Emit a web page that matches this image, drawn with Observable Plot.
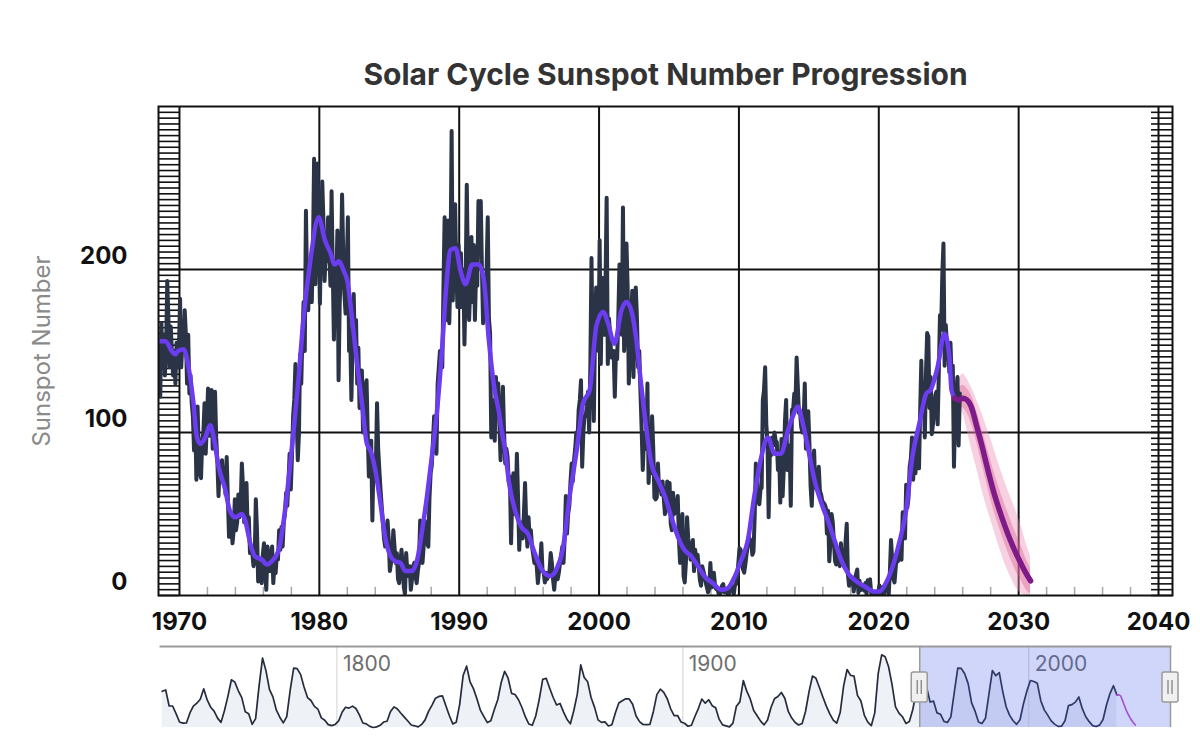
<!DOCTYPE html>
<html><head><meta charset="utf-8">
<script src="https://cdn.jsdelivr.net/npm/d3@7"></script>
<script src="https://cdn.jsdelivr.net/npm/@observablehq/plot@0.6"></script>
<style>
html,body{margin:0;padding:0;background:#fff;}
#wrap{position:relative;width:1200px;height:743px;overflow:hidden;background:#fff;}
#main{position:absolute;left:0;top:0;}
#nav{position:absolute;left:0;top:640px;}
</style></head><body><div id="wrap"><div id="main"></div><div id="nav"></div></div>
<script>
// ---------- DATA ----------
const titleText = "Solar Cycle Sunspot Number Progression";
const yTitle = "Sunspot Number";
const xTickYears = [1970, 1980, 1990, 2000, 2010, 2020, 2030, 2040];
const yTickValues = [0, 100, 200];
const yGridValues = [100, 200];
const minorTickYears = [1972,1974,1976,1978,1982,1984,1986,1988,1992,1994,1996,1998,2002,2004,2006,2008,2012,2014,2016,2018,2022,2024,2026,2028,2032,2034,2036,2038];
const hatchValues = d3.range(0, 84).map(i => i * 300 / 84);

// Monthly mean sunspot number, starting July 1968
const firstYear = 1968, firstMonth = 7;
const sunspots1968to1969 = [150,122,167,140,160,135, 150,193,170,140,165,150,135,150,130,155,140,150];
const sunspots1970s = [
182,140,155,150,175,160,130,160,124,135,118,110,
89,112,71,116,90,75,72,95,100,118,87,105,
127,98,100,126,90,112,125,97,82,61,80,78,
83,70,75,62,85,60,36,50,45,32,40,59,
40,45,62,48,55,81,67,45,50,69,40,48,
26,30,26,18,22,59,40,8.6,20,18,7.6,25,
32,15,3.5,30,20,15,25,30,7.6,20,13.7,25,
22,40,28,42,30,45,50,63,55,70,87,65,
85,110,120,142,110,83,99,148,130,160,180,150,
236,190,175,203,205,180,210,268,191,230,265,220];
const sunspots1980s = [
179,220,254,230,193,210,205,232,215,190,248,200,
157,195,190,224,132,180,200,246,210,185,173,200,
232,150,160,120,155,185,150,169,130,152,115,138,
138,100,105,128,132,100,73,90,95,46,85,70,
80,118,90,77,65,55,45,35,30,40,46,35,
15,20,25,40,30,20,26,10,7.6,20,28,18,
5,1.4,26,15,12,18,3.5,10,18,20,12,7.6,
15,20,46,35,20,30,46,40,32,30,60,75,
80,95,110,100,87,130,140,150,150,140,190,232,
169,210,230,167,200,285,181,220,240,200,177,215];
const sunspots1990s = [
177,210,177,200,154,190,252,200,169,190,220,180,
215,169,200,190,242,220,242,200,167,190,180,200,
232,170,161,97,120,110,95,134,115,130,105,83,
107,128,100,81,90,85,70,73,32,60,75,50,
55,87,60,28,45,40,35,50,69,44,30,48,
35,40,30,25,20,22,18,7.6,15,20,32,15,
14,8,14,10,12,15,26,20,10,3.5,12,15,
10,14,20,25,30,20,35,61,38,50,55,70,
81,70,83,90,100,95,114,120,132,79,100,110,
110,116,125,100,140,207,150,107,160,189,170,150];
const sunspots2000s = [
218,142,195,180,160,190,244,142,170,160,146,150,
150,122,150,145,170,203,180,160,238,150,170,216,
190,130,150,170,187,134,165,189,170,140,150,125,
103,77,95,100,90,130,69,85,75,110,90,60,
59,60,81,65,69,62,70,60,50,52,70,55,
69,44,40,63,50,57,55,61,35,20,30,50,
12,8,20,48,35,30,22,25,34,15,28,20,
25,18,9.6,6,18,15,12,8,5,2,4,20,
5,5.5,14,6,4,4.5,1.4,0.5,2,6,7,2,
2,3,0.8,1.2,4.5,4.5,5,0.4,6,7,12,20];
const sunspots2010s = [
29,28,24,16,14,19,25,30,36,34,34,25,
27,48,81,76,58,56,65,66,120,126,140,105,
94,48,87,86,97,92,100,95,94,77,88,57,
96,61,78,107,120,77,86,92,55,114,114,124,
117,146,129,112,112,103,100,107,130,90,104,113,
93,67,55,75,89,66,66,64,79,64,62,58,
57,56,54,38,52,21,32,50,45,33,21,19,
26,26,18,32,19,19,18,33,44,13,6,8,
7,11,2.5,9,13,16,1.6,9,3.3,5,5,3,
7.7,0.8,9.4,9.1,9.9,1.2,0.9,0.5,1.1,0.4,0.5,1.5];
const sunspots2020s = [
6.2,0.2,1.5,5.2,0.2,5.8,6.1,7.5,0.6,14.4,34,22,
10,8,17,24,21,25,34,22,51,37,35,68,
54,60,79,84,97,71,91,75,96,96,78,113,
144,111,123,97,137,161,159,115,134,99,105,114,
123,125,105,137,172,163,197,216,141,166,153,155,
137,155,134,141,79,113,126,134,92,124];

// 13-month smoothed sunspot number
const smoothYears = [1968.5,1969.0,1969.45,1969.7,1969.9,1970.3,1970.65,1971.0,1971.25,1971.5,1971.85,1972.2,1972.45,1972.8,1973.27,1973.6,1974.0,1974.46,1974.7,1975.06,1975.4,1975.9,1976.25,1976.6,1977.1,1977.45,1977.8,1978.16,1978.5,1978.88,1979.35,1979.95,1980.4,1980.8,1981.1,1981.4,1981.75,1982.0,1982.3,1982.7,1983.05,1983.4,1983.65,1984.0,1984.37,1984.7,1985.1,1985.44,1985.8,1986.15,1986.6,1987.0,1987.35,1987.7,1988.07,1988.4,1988.78,1989.07,1989.38,1989.74,1990.1,1990.45,1990.93,1991.4,1991.77,1992.1,1992.5,1992.85,1993.0,1993.3,1993.55,1994.0,1994.45,1994.9,1995.4,1995.9,1996.5,1996.95,1997.4,1997.9,1998.4,1998.86,1999.33,1999.8,2000.3,2000.64,2001.1,2001.6,2001.95,2002.3,2002.67,2003.0,2003.4,2003.74,2004.2,2004.7,2005.17,2005.64,2006.1,2006.6,2007.07,2007.55,2008.14,2008.74,2009.2,2009.7,2010.17,2010.64,2011.1,2011.6,2012.07,2012.55,2013.0,2013.5,2013.86,2014.2,2014.57,2014.93,2015.4,2015.9,2016.36,2016.83,2017.3,2017.8,2018.26,2019.0,2019.7,2020.05,2020.5,2021.0,2021.45,2021.95,2022.4,2022.9,2023.4,2023.7,2024.2,2024.7,2025.05,2025.2,2025.43];
const smoothValues = [156,156,150,148,150,151,140,118,97,93,97,104.5,97,79,65,52,48,50,46,32,24,22,19,21,28,46,71,101,132,171,205,232,218,210,203,205,199,193,173,142,118,93,89,77,56.5,36,24,21,20,15,15,22,40,61,87,112,152,189,212,213,199,191,203,203,193,158.6,128,112,103,88,70,52,42,38,26,16,12,16,28,61,89,118,126,165,174,167,154.5,175,180,175,156.5,130,101,81,71,61,48,36,28,24,18,11.6,7.5,3.5,4.5,11.6,22,34,61,85,97,87,87,101,110,116,105.5,91,71,56.5,46,34,22,13.7,9.6,5.5,2.4,2.4,7.5,18,32,52,85,105.5,124,126,140,160.6,146,126,121];

// Predicted smoothed sunspot number with uncertainty ranges
const predYears = [2025.43,2025.7,2026.0,2026.3,2026.6,2027.0,2027.4,2027.8,2028.2,2028.6,2029.0,2029.4,2029.8,2030.2,2030.5,2030.85];
const predValues = [121,120,121,120,116,104,91,77,64,53,43,34,26,19,14,9];
const bandYears = [2025.7,2026.0,2026.3,2026.6,2027.0,2027.4,2027.8,2028.2,2028.6,2029.0,2029.4,2029.8,2030.2,2030.5,2030.85];
const outerHigh = [131,136,133,128,120,111,101,91,80,70,61,52,42,33,24];
const outerLow  = [115,112,102,91,78,64,52,41,30,20,12,5,1,0,0];
const innerHigh = [126,129,127,123,113,101,89,77,66,56,47,38,30,23,17];
const innerLow  = [117,115,112,106,94,80,66,53,42,32,23,15,9,4,1];

// Navigator: yearly mean sunspot number 1749-2025
const navFirstYear = 1749;
const navYearly = [
134,139,79.8,79.7,51.2,20.3,16,17,54,79.3,90,104.8,143.2,102,75.2,60.7,34.8,19,63,116.3,176.8,168,136,110.8,58,51,11.7,33,154.2,257.3,209.8,141.3,113.5,64.2,38,17,40.2,138.2,220,218.2,196.8,149.8,111,100,78.2,68.3,35.5,26.7,10.7,6.8,11.3,
24.2,56.7,75,71.8,79.2,70.3,46.8,16.8,13.5,4.2,0,2.3,8.3,20.3,23.2,59,76.3,68.3,52.9,38.5,24.2,9.2,6.3,2.2,11.4,28.2,59.9,83,108.5,115.2,117.4,80.8,44.3,13.4,19.5,85.8,192.7,227.3,168.7,143,105.5,63.3,40.3,18.1,25.1,65.8,102.7,166.3,208.3,182.5,126.3,122,102.7,74.1,39,12.7,8.2,43.4,104.4,178.3,182.2,146.6,112.1,83.5,89.2,57.8,30.7,13.9,62.8,123.6,232,185.3,169.2,110.1,74.5,28.3,18.9,20.7,5.7,10,53.7,90.5,99,106.1,105.8,86.3,42.4,21.8,11.2,10.4,11.8,59.5,121.7,142,130,106.6,69.4,43.8,44.4,20.2,
15.7,4.6,8.5,40.8,70.1,105.5,90.1,102.8,80.9,73.2,30.9,9.5,6,2.4,16.1,79,95,173.6,134.6,105.7,62.7,43.5,23.7,9.7,27.9,74,106.5,114.7,129.7,108.2,59.4,35.1,18.6,9.2,14.6,60.2,132.8,190.6,182.6,148,113,79.2,50.8,27.1,16.1,55.3,154.3,214.7,193,190.7,118.9,98.3,45,20.1,6.6,54.2,200.7,269.3,261.7,225.1,159,76.4,53.4,39.9,15,22,66.8,132.9,150,149.4,148,94.4,97.6,54.1,49.2,22.5,18.4,39.3,131,220.1,218.9,198.9,162.4,91,60.5,20.6,14.8,33.9,123,211.1,191.8,203.3,133,76.1,44.9,25.1,11.6,28.9,88.3,136.3,
173.9,170.4,163.6,99.3,65.3,45.8,24.7,12.6,4.2,4.8,24.9,80.8,84.5,94,113.3,69.8,39.8,21.7,7,3.6,8.8,29.6,83.2,125.5,154.7,121];
const navTickYears = [1800, 1900, 2000];
const viewRange = [1968.5, 2041];

// ---------- ROWS ----------
const monthly = [sunspots1968to1969, sunspots1970s, sunspots1980s, sunspots1990s, sunspots2000s, sunspots2010s, sunspots2020s].flat();
const monthlyRows = monthly.map((v, i) => ({date: firstYear + (firstMonth - 1 + i + 0.5) / 12, value: v}));
const smoothRows = smoothYears.map((y, i) => ({date: y, value: smoothValues[i]}));
const predRows = predYears.map((y, i) => ({date: y, value: predValues[i]}));
const bandRows = bandYears.map((y, i) => ({date: y, oLo: outerLow[i], oHi: outerHigh[i], iLo: innerLow[i], iHi: innerHigh[i]}));
const navRows = navYearly.map((v, i) => ({date: navFirstYear + i + 0.5, value: v}));

const FONT = "Inter, Roboto, 'Noto Sans', sans-serif";

// ---------- MAIN CHART ----------
const main = Plot.plot({
  width: 1200, height: 640,
  marginTop: 106, marginBottom: 45, marginLeft: 158, marginRight: 28,
  x: {domain: viewRange, axis: null},
  y: {domain: [0, 300], axis: null},
  style: {fontFamily: FONT, background: "transparent", overflow: "visible"},
  marks: [
    Plot.ruleX(xTickYears, {stroke: "#111", strokeWidth: 2}),
    Plot.ruleY(yGridValues, {stroke: "#111", strokeWidth: 2}),
    Plot.ruleY(hatchValues, {x1: viewRange[0], x2: 1970, stroke: "#111", strokeWidth: 1.6}),
    Plot.ruleY(hatchValues, {x1: 2039.5, x2: viewRange[1], stroke: "#111", strokeWidth: 1.6}),
    Plot.ruleX(minorTickYears, {y1: 0, y2: 5, stroke: "#a8a8a8", strokeWidth: 1.5}),
    Plot.areaY(bandRows, {x: "date", y1: "oLo", y2: "oHi", fill: "#ec8fb8", fillOpacity: 0.42, curve: "monotone-x"}),
    Plot.areaY(bandRows, {x: "date", y1: "iLo", y2: "iHi", fill: "#d9568f", fillOpacity: 0.38, curve: "monotone-x"}),
    Plot.lineY(monthlyRows, {x: "date", y: "value", stroke: "#2b3446", strokeWidth: 4, strokeLinejoin: "round", clip: true}),
    Plot.lineY(smoothRows, {x: "date", y: "value", stroke: "#6b3cf0", strokeWidth: 4.5, curve: "monotone-x", strokeLinejoin: "round", clip: true}),
    Plot.lineY(predRows, {x: "date", y: "value", stroke: "#7d1c88", strokeWidth: 5.5, curve: "monotone-x", strokeLinecap: "round"}),
    Plot.frame({stroke: "#111", strokeWidth: 2}),
    Plot.text(xTickYears, {x: d => d, text: d => String(d), frameAnchor: "bottom", lineAnchor: "middle", dy: 27, fontSize: 24, fontWeight: 700, fill: "#111"}),
    Plot.text(yTickValues, {y: d => d, text: d => String(d), frameAnchor: "left", textAnchor: "end", lineAnchor: "middle", dx: -31, dy: -13, fontSize: 24, fontWeight: 700, fill: "#111"}),
    Plot.text([yTitle], {text: d => d, frameAnchor: "left", textAnchor: "middle", lineAnchor: "middle", dx: -116, rotate: -90, fontSize: 24, fill: "#8a8a8a"}),
    Plot.text([titleText], {text: d => d, frameAnchor: "top", textAnchor: "middle", lineAnchor: "middle", dy: -31, fontSize: 30, fontWeight: 700, fill: "#333"})
  ]
});
document.getElementById("main").appendChild(main);

// ---------- NAVIGATOR ----------
const nav = Plot.plot({
  width: 1200, height: 103,
  marginTop: 6, marginBottom: 16, marginLeft: 160, marginRight: 30,
  x: {domain: [1749, 2041], axis: null},
  y: {domain: [0, 300], axis: null},
  style: {fontFamily: FONT, background: "transparent", overflow: "visible"},
  marks: [
    Plot.areaY(navRows, {x: "date", y: "value", fill: "#eef1f6"}),
    Plot.ruleX(navTickYears, {stroke: "#dcdcdc", strokeWidth: 1.3}),
    Plot.text(navTickYears, {x: d => d, text: d => String(d), frameAnchor: "top", textAnchor: "start", lineAnchor: "middle", dx: 6, dy: 18, fill: "#6e6e6e", fontSize: 21}),
    Plot.lineY(navRows, {x: "date", y: "value", stroke: "#262c3b", strokeWidth: 1.7}),
    Plot.lineY(predRows, {x: "date", y: "value", stroke: "#c246cc", strokeWidth: 1.6, curve: "monotone-x"}),
    Plot.rect([viewRange], {x1: d => d[0], x2: d => d[1], fill: "#4b61e8", fillOpacity: 0.26}),
    Plot.ruleX(viewRange, {stroke: "#9a9a9a", strokeWidth: 1.5}),
    Plot.frame({anchor: "top", stroke: "#9a9a9a", strokeWidth: 2})
  ]
});
document.getElementById("nav").appendChild(nav);

// handles of the navigator selection
const nx = nav.scale("x");
const navSvg = d3.select(nav.tagName.toLowerCase() === "svg" ? nav : nav.querySelector("svg"));
for (const yr of viewRange) {
  const cx = nx.apply(yr);
  const g = navSvg.append("g");
  g.append("rect").attr("x", cx - 8).attr("y", 32).attr("width", 16).attr("height", 30)
    .attr("rx", 2).attr("fill", "#f0f0f0").attr("stroke", "#9a9a9a").attr("stroke-width", 1.5);
  for (const dx of [-2, 2]) {
    g.append("line").attr("x1", cx + dx).attr("x2", cx + dx).attr("y1", 40).attr("y2", 54)
      .attr("stroke", "#7a7a7a").attr("stroke-width", 1.2);
  }
}
</script>
</body></html>
